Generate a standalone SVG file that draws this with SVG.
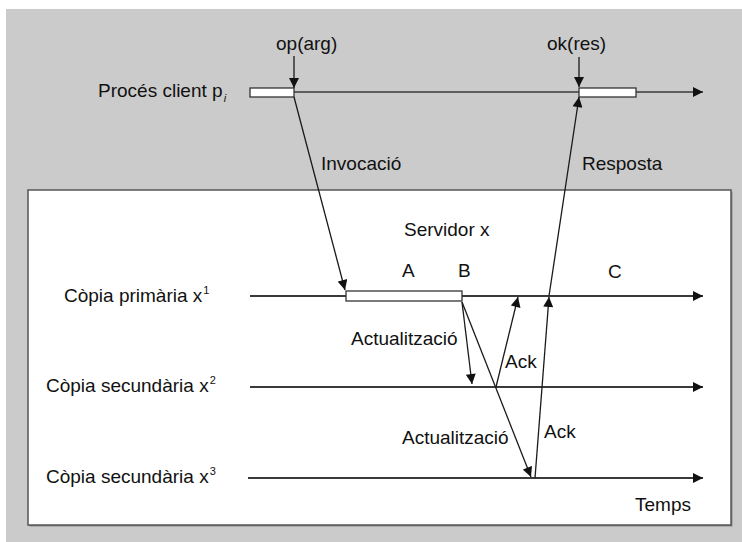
<svg xmlns="http://www.w3.org/2000/svg" width="742" height="542" viewBox="0 0 742 542">
  <style>
    text { font-family: "Liberation Sans", Arial, sans-serif; font-size: 19px; fill: #111111; }
    .timeline { stroke: #3a3a3a; stroke-width: 2; fill: none; }
    .msg { stroke: #1a1a1a; stroke-width: 1.3; fill: none; }
    .bar { fill: #ffffff; stroke: #333333; stroke-width: 1.3; }
    .sup { font-size: 11px; }
  </style>
  <defs>
    <marker id="arrow" viewBox="0 0 10 10" refX="10" refY="5" markerWidth="11" markerHeight="10" markerUnits="userSpaceOnUse" orient="auto">
      <path d="M0,0 L10,5 L0,10 z" fill="#111111"/>
    </marker>
  </defs>

  <!-- background -->
  <rect x="6" y="9" width="736" height="533" fill="#cbcbcb"/>

  <!-- server box -->
  <g id="server">
    <rect x="29.5" y="191.5" width="703" height="335" fill="#8a8a8a"/>
    <rect x="28" y="190" width="703" height="335" fill="#ffffff" stroke="#555555" stroke-width="1.5"/>
    <text x="404" y="236">Servidor x</text>
  </g>

  <!-- client process -->
  <g id="client">
    <text x="98" y="97">Procés client p<tspan class="sup" font-style="italic" dx="1" dy="5">i</tspan></text>
    <line class="timeline" x1="294" y1="92" x2="703" y2="92" marker-end="url(#arrow)" style="stroke-width:1.6"/>
    <rect class="bar" x="250" y="88" width="44" height="9"/>
    <rect class="bar" x="579" y="88" width="57" height="9"/>
  </g>

  <!-- primary copy -->
  <g id="primary">
    <text x="64" y="302">Còpia primària x<tspan class="sup" dx="1" dy="-8">1</tspan></text>
    <line class="timeline" x1="250" y1="296" x2="703" y2="296" marker-end="url(#arrow)"/>
    <rect class="bar" x="346" y="291" width="116" height="10"/>
    <text x="402" y="277">A</text>
    <text x="458" y="277">B</text>
    <text x="608" y="278">C</text>
  </g>

  <!-- secondary copy 2 -->
  <g id="secondary2">
    <text x="46" y="392">Còpia secundària x<tspan class="sup" dx="1" dy="-8">2</tspan></text>
    <line class="timeline" x1="250" y1="387" x2="703" y2="387" marker-end="url(#arrow)"/>
  </g>

  <!-- secondary copy 3 -->
  <g id="secondary3">
    <text x="46" y="483">Còpia secundària x<tspan class="sup" dx="1" dy="-8">3</tspan></text>
    <line class="timeline" x1="248" y1="478" x2="703" y2="478" marker-end="url(#arrow)"/>
    <text x="635" y="511">Temps</text>
  </g>

  <!-- connectors -->
  <g id="connectors">
    <line class="msg" x1="294" y1="56" x2="294" y2="88" marker-end="url(#arrow)"/>
    <text x="276" y="50">op(arg)</text>
    <line class="msg" x1="579" y1="57" x2="579" y2="87" marker-end="url(#arrow)"/>
    <text x="547" y="50">ok(res)</text>

    <line class="msg" x1="294" y1="97" x2="345" y2="290" marker-end="url(#arrow)"/>
    <text x="321" y="170">Invocació</text>

    <line class="msg" x1="549" y1="296" x2="579" y2="97" marker-end="url(#arrow)"/>
    <text x="582" y="170">Resposta</text>

    <line class="msg" x1="462" y1="302" x2="472" y2="384" marker-end="url(#arrow)"/>
    <text x="351" y="345">Actualització</text>

    <line class="msg" x1="496" y1="387" x2="518" y2="297" marker-end="url(#arrow)"/>
    <text x="505" y="368">Ack</text>

    <line class="msg" x1="462" y1="302" x2="531" y2="477" marker-end="url(#arrow)"/>
    <text x="402" y="444">Actualització</text>

    <line class="msg" x1="535" y1="478" x2="549" y2="297" marker-end="url(#arrow)"/>
    <text x="544" y="438">Ack</text>
  </g>
</svg>
